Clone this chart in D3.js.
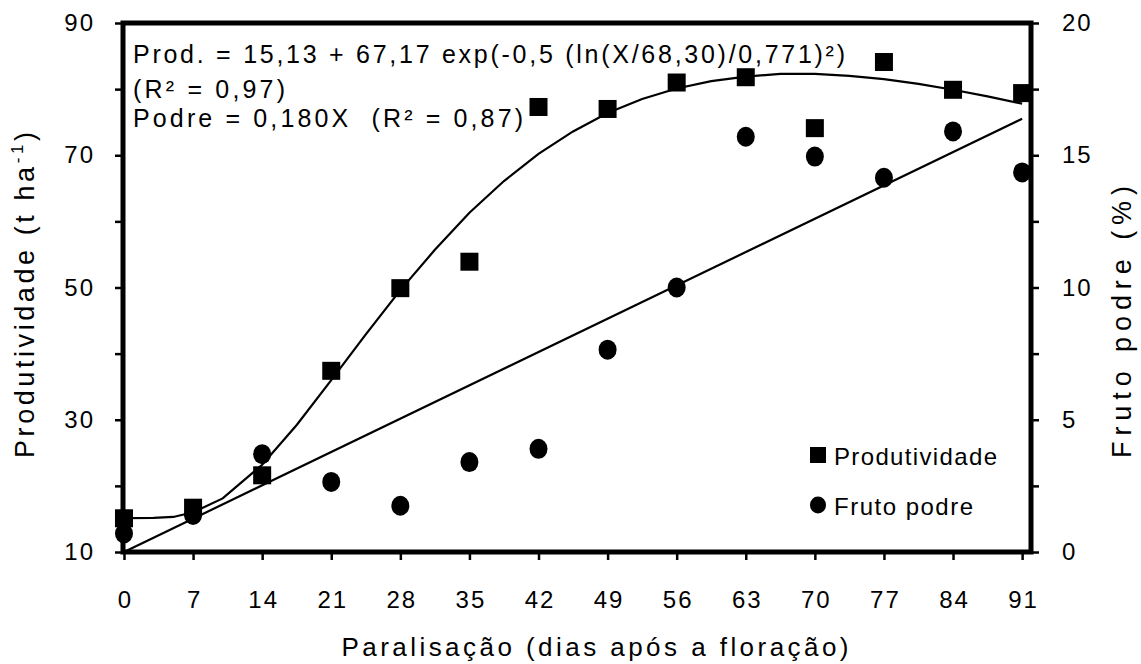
<!DOCTYPE html>
<html>
<head>
<meta charset="utf-8">
<script src="https://cdn.jsdelivr.net/npm/d3@7"></script>
<style>
  html, body { margin: 0; padding: 0; background: #fff; }
  svg { display: block; font-family: "Liberation Sans", Arial, Helvetica, sans-serif; }
  .tick text { font-size: 24px; letter-spacing: 2px; fill: #000; }
  .tick line { stroke: #000; stroke-width: 2.5; }
</style>
</head>
<body>
<div id="chart"></div>
<script>
// Days after flowering (x axis categories)
const days = [0, 7, 14, 21, 28, 35, 42, 49, 56, 63, 70, 77, 84, 91];
// Produtividade (t ha-1), left axis
const produtividade = [15.1, 16.7, 21.6, 37.4, 49.9, 53.9, 77.3, 77.0, 81.0, 81.8, 74.1, 84.1, 79.9, 79.4];
// Fruto podre (%), right axis
const frutoPodre = [0.7, 1.4, 3.7, 2.65, 1.75, 3.4, 3.9, 7.65, 10.0, 15.7, 14.95, 14.15, 15.9, 14.35];

// fitted curve for Produtividade
const curveDays = [0, 3, 5, 7, 10, 14, 17.5, 21, 24.5, 28, 31.5, 35, 38.5, 42, 45.5, 49, 52.5, 56, 59.5, 63, 66.5, 70, 73.5, 77, 80.5, 84, 87.5, 91];
const curveProd = [15.13, 15.15, 15.3, 16.0, 18.1, 23.2, 29.2, 36.0, 42.9, 49.6, 55.7, 61.3, 66.1, 70.2, 73.6, 76.4, 78.5, 80.1, 81.2, 81.9, 82.3, 82.3, 82.0, 81.5, 80.8, 79.9, 78.9, 77.8];

// fitted line for Fruto podre
const lineDays = [0, 91];
const linePodre = [0, 16.38];

// tick values
const leftTicks = [10, 20, 30, 40, 50, 60, 70, 80, 90];
const rightTicks = [0, 2.5, 5, 7.5, 10, 12.5, 15, 17.5, 20];

const width = 1141, height = 664;
const plot = { left: 123, right: 1031, top: 23, bottom: 552 };

const svg = d3.select('#chart').append('svg')
  .attr('width', width)
  .attr('height', height);

const x = d3.scaleLinear().domain([-0.1, 91.9]).range([plot.left, plot.right]);
const yL = d3.scaleLinear().domain([10, 90]).range([plot.bottom, plot.top]);
const yR = d3.scaleLinear().domain([0, 20]).range([plot.bottom, plot.top]);

// axes
const gLeft = svg.append('g')
  .attr('transform', `translate(${plot.left},0)`)
  .call(d3.axisLeft(yL).tickValues(leftTicks).tickSize(8).tickPadding(22)
    .tickFormat(d => (d - 10) % 20 === 0 ? d : ''));

const gRight = svg.append('g')
  .attr('transform', `translate(${plot.right},0)`)
  .call(d3.axisRight(yR).tickValues(rightTicks).tickSize(8).tickPadding(23)
    .tickFormat(d => d % 5 === 0 ? d : ''));

const gBottom = svg.append('g')
  .attr('transform', `translate(0,${plot.bottom})`)
  .call(d3.axisBottom(x).tickValues(days).tickSize(8).tickPadding(31));

[gLeft, gRight, gBottom].forEach(g => {
  g.select('.domain').remove();
  g.selectAll('.tick text').attr('font-family', null).attr('font-size', null);
});
gLeft.selectAll('.tick text').attr('dx', '2px');
gBottom.selectAll('.tick text').attr('dx', '1px');

// frame
svg.append('rect')
  .attr('x', plot.left)
  .attr('y', plot.top)
  .attr('width', plot.right - plot.left)
  .attr('height', plot.bottom - plot.top)
  .attr('fill', 'none')
  .attr('stroke', '#000')
  .attr('stroke-width', 5);

// curves
const prodLine = d3.line()
  .x((d, i) => x(curveDays[i]))
  .y(d => yL(d));

svg.append('path')
  .datum(curveProd)
  .attr('d', prodLine)
  .attr('fill', 'none')
  .attr('stroke', '#000')
  .attr('stroke-width', 2.2);

const podreLine = d3.line()
  .x((d, i) => x(lineDays[i]))
  .y(d => yR(d));

svg.append('path')
  .datum(linePodre)
  .attr('d', podreLine)
  .attr('fill', 'none')
  .attr('stroke', '#000')
  .attr('stroke-width', 2.2);

// markers
const sq = 18;
svg.append('g').selectAll('rect')
  .data(produtividade)
  .join('rect')
  .attr('x', (d, i) => x(days[i]) - sq / 2)
  .attr('y', d => yL(d) - sq / 2)
  .attr('width', sq)
  .attr('height', sq)
  .attr('fill', '#000');

svg.append('g').selectAll('ellipse')
  .data(frutoPodre)
  .join('ellipse')
  .attr('cx', (d, i) => x(days[i]))
  .attr('cy', d => yR(d))
  .attr('rx', 9)
  .attr('ry', 10)
  .attr('fill', '#000');

// equations
const eq = svg.append('g').attr('font-size', 25);
eq.append('text').attr('x', 133).attr('y', 63)
  .attr('textLength', 712).attr('lengthAdjust', 'spacing')
  .text('Prod. = 15,13 + 67,17 exp(-0,5 (ln(X/68,30)/0,771)²)');
eq.append('text').attr('x', 133).attr('y', 98)
  .attr('textLength', 152).attr('lengthAdjust', 'spacing')
  .text('(R² = 0,97)');
eq.append('text').attr('x', 133).attr('y', 127)
  .attr('textLength', 390).attr('lengthAdjust', 'spacing')
  .attr('xml:space', 'preserve')
  .text('Podre = 0,180X  (R² = 0,87)');

// legend
const legend = svg.append('g').attr('font-size', 24);
legend.append('rect')
  .attr('x', 810).attr('y', 447).attr('width', 16).attr('height', 16)
  .attr('fill', '#000');
legend.append('text').attr('x', 834).attr('y', 465)
  .attr('textLength', 163).attr('lengthAdjust', 'spacing')
  .text('Produtividade');
legend.append('ellipse')
  .attr('cx', 818).attr('cy', 505).attr('rx', 8).attr('ry', 8.5)
  .attr('fill', '#000');
legend.append('text').attr('x', 834).attr('y', 515)
  .attr('textLength', 139).attr('lengthAdjust', 'spacing')
  .text('Fruto podre');

// axis titles
svg.append('text')
  .attr('x', 595).attr('y', 656)
  .attr('text-anchor', 'middle')
  .attr('font-size', 26)
  .attr('textLength', 507).attr('lengthAdjust', 'spacing')
  .text('Paralisação (dias após a floração)');

const leftTitle = svg.append('text')
  .attr('transform', 'translate(34,295) rotate(-90)')
  .attr('text-anchor', 'middle')
  .attr('font-size', 27)
  .attr('textLength', 326).attr('lengthAdjust', 'spacing');
leftTitle.append('tspan').text('Produtividade (t ha');
leftTitle.append('tspan').attr('font-size', 17).attr('dy', -11).text('-1');
leftTitle.append('tspan').attr('dy', 11).text(')');

svg.append('text')
  .attr('transform', 'translate(1131,322) rotate(-90)')
  .attr('text-anchor', 'middle')
  .attr('font-size', 27)
  .attr('textLength', 272).attr('lengthAdjust', 'spacing')
  .text('Fruto podre (%)');
</script>
</body>
</html>
